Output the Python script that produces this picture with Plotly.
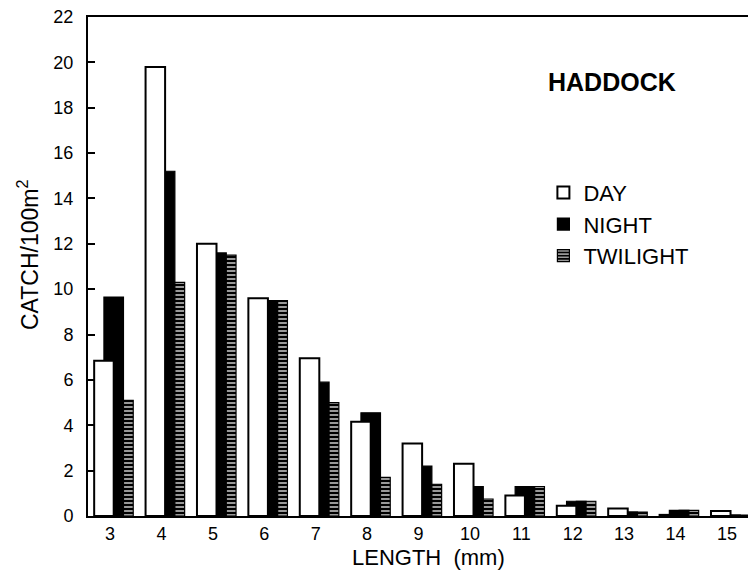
import plotly.graph_objects as go

lengths = [3, 4, 5, 6, 7, 8, 9, 10, 11, 12, 13, 14, 15]
day = [6.85, 19.8, 12.0, 9.6, 6.95, 4.15, 3.2, 2.3, 0.9, 0.45, 0.33, 0.05, 0.22]
night = [9.65, 15.2, 11.6, 9.5, 5.9, 4.55, 2.2, 1.3, 1.3, 0.65, 0.17, 0.25, 0.04]
twilight = [5.1, 10.3, 11.5, 9.5, 5.0, 1.7, 1.4, 0.75, 1.3, 0.65, 0.17, 0.25, 0.04]
y_ticks = list(range(0, 23, 2))

FONT = "Liberation Sans"
W = 0.38

fig = go.Figure()
fig.add_trace(go.Bar(
    x=lengths, y=twilight, name="TWILIGHT", width=W, offset=0.07,
    marker=dict(color="black", line=dict(color="black", width=1.2),
                pattern=dict(shape="-", fgcolor="white", bgcolor="black",
                             size=4, solidity=0.3, fillmode="replace")),
))
fig.add_trace(go.Bar(
    x=lengths, y=night, name="NIGHT", width=W, offset=-0.12,
    marker=dict(color="black", line=dict(color="black", width=1.2)),
))
fig.add_trace(go.Bar(
    x=lengths, y=day, name="DAY", width=W, offset=-0.31,
    marker=dict(color="white", line=dict(color="black", width=2)),
))

L, T, B = 88, 17, 62
PW, PH = 748 - L, 578 - T - B


def px(x, y):
    return (x - L) / PW, 1 - (y - T) / PH


hx, hy = px(612, 82)
lx, ly = px(428, 557)
cx, cy = px(28, 255)

fig.update_layout(
    width=748, height=578,
    margin=dict(l=L, r=0, t=T, b=B),
    barmode="overlay",
    plot_bgcolor="white", paper_bgcolor="white",
    font=dict(family=FONT, color="black", size=18),
    showlegend=True,
    legend=dict(x=0.69, y=0.69, xanchor="left", yanchor="top",
                traceorder="reversed", font=dict(size=22, family=FONT),
                bgcolor="rgba(0,0,0,0)"),
    xaxis=dict(range=[2.57, 15.41], tickvals=lengths,
               ticktext=[str(v) for v in lengths],
               showline=True, linecolor="black", linewidth=2, mirror=True,
               ticks="", showgrid=False, zeroline=False,
               tickfont=dict(size=18, family=FONT)),
    yaxis=dict(range=[0, 22], tickvals=y_ticks,
               showline=True, linecolor="black", linewidth=2,
               ticks="inside", ticklen=7, tickwidth=2, tickcolor="black",
               ticklabelstandoff=9,
               showgrid=False, zeroline=False,
               tickfont=dict(size=18, family=FONT)),
    annotations=[
        dict(text="<b>HADDOCK</b>", x=hx, y=hy, xref="paper", yref="paper",
             xanchor="center", yanchor="middle",
             showarrow=False, font=dict(size=25, family=FONT)),
        dict(text="LENGTH  (mm)", x=lx, y=ly, xref="paper", yref="paper",
             xanchor="center", yanchor="middle", showarrow=False,
             font=dict(size=22, family=FONT)),
        dict(text="CATCH/100m<sup>2</sup>", x=cx, y=cy, xref="paper", yref="paper",
             xanchor="center", yanchor="middle", textangle=-90,
             showarrow=False, font=dict(size=23, family=FONT)),
    ],
)

fig.write_html("out.html")
